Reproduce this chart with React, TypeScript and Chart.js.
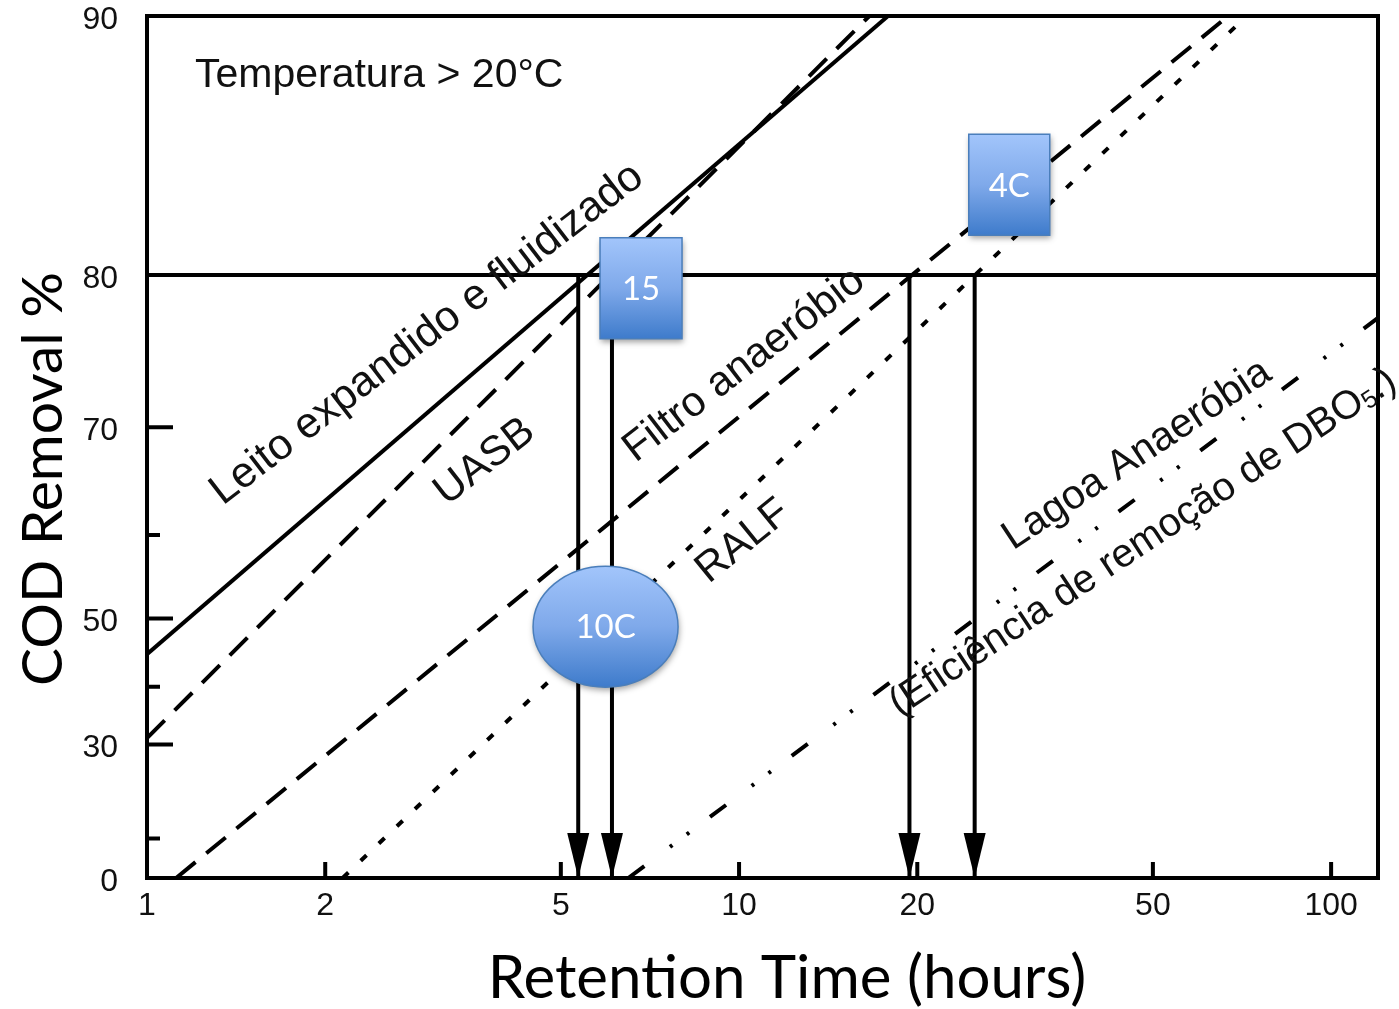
import { useEffect, useRef } from 'react';
import { Chart, registerables, LinearScale } from 'chart.js';

// ---------------- data ----------------
const X_TICKS = [1, 2, 5, 10, 20, 50, 100];
const X_MARKS = [2, 5, 10, 20, 50, 100];
const Y_TICKS = [0, 10, 30, 40, 50, 60, 70, 80, 90];
const Y_LABELED_TICKS = [0, 30, 50, 70, 80, 90];
const Y_MAJOR_MARKS = [30, 50, 70];
const Y_MINOR_MARKS = [10, 40, 60];

const LEITO_TIME = [1, 17.85];
const LEITO_REMOVAL = [45, 90];
const UASB_TIME = [1, 16.6];
const UASB_REMOVAL = [31.2, 90];
const FILTRO_TIME = [1.12, 67];
const FILTRO_REMOVAL = [0, 90];
const RALF_TIME = [2.14, 72];
const RALF_REMOVAL = [0, 90];
const LAGOA_TIME = [6.5, 120];
const LAGOA_REMOVAL = [0, 77.6];

const TARGET_REMOVAL = 80;
const ARROW_TIMES = [5.35, 6.1, 19.4, 25];

// ---------------- annotation placement (data coordinates) ----------------
const CURVE_LABELS = [
  { text: 'Leito expandido e fluidizado', t: 2.97, e: 76.6, angle: 37.5, size: 43 },
  { text: 'UASB', t: 3.72, e: 67.1, angle: 38, size: 42 },
  { text: 'Filtro anaeróbio', t: 10.2, e: 74.6, angle: 37.5, size: 42 },
  { text: 'RALF', t: 10.16, e: 59.3, angle: 39, size: 42 },
  { text: 'Lagoa Anaeróbia', t: 47.0, e: 67.7, angle: 33.5, size: 41 },
];
const EFFICIENCY_LABEL = { t: 48.1, e: 59.2, angle: 33.5 };
const TEMPERATURE_LABEL = { text: 'Temperatura > 20°C', t: 1.205, e: 87.9 };
const TEMP_BADGES = [
  { text: '15', t: 6.83, e: 79.3, w: 82, h: 101, shape: 'rect' },
  { text: '4C', t: 28.6, e: 84.3, w: 81, h: 101, shape: 'rect' },
  { text: '10C', t: 5.95, e: 48.9, w: 145, h: 121, shape: 'ellipse' },
];

const SANS = '"Liberation Sans", Arial, sans-serif';
const LABEL_FONT = `40px ${SANS}`;
const SUB_FONT = `25px ${SANS}`;
const X_TITLE_FONT = '60px Lato, "Open Sans", sans-serif';
const Y_TITLE_FONT = '57px Lato, "Open Sans", sans-serif';
const BADGE_FONT = '33px Lato, "Open Sans", sans-serif';
const INK = '#111';

// First-order removal axis: position proportional to -ln(1 - E)
const removalTransform = (v: number) => -Math.log(1 - v / 100);

class FirstOrderScale extends LinearScale {
  static id = 'firstOrder';
  buildTicks() {
    return Y_TICKS.map((value) => ({ value }));
  }
  configure() {
    super.configure();
    (this as any)._tStart = removalTransform((this as any).min);
    (this as any)._tRange = removalTransform((this as any).max) - (this as any)._tStart;
  }
  getPixelForValue(value: number) {
    const self = this as any;
    return self.getPixelForDecimal((removalTransform(value) - self._tStart) / self._tRange);
  }
  getValueForPixel(pixel: number) {
    const self = this as any;
    const d = self.getDecimalForPixel(pixel);
    return 100 * (1 - Math.exp(-(self._tStart + d * self._tRange)));
  }
}

Chart.register(...registerables, FirstOrderScale as any);

const toPoints = (times: number[], removals: number[]) =>
  times.map((t, i) => ({ x: t, y: removals[i] }));

function drawBadge(ctx: CanvasRenderingContext2D, cx: number, cy: number, b: any) {
  const x0 = cx - b.w / 2;
  const y0 = cy - b.h / 2;
  const grad = ctx.createLinearGradient(0, y0, 0, y0 + b.h);
  grad.addColorStop(0, '#A2C5FB');
  grad.addColorStop(0.5, '#7FA9EA');
  grad.addColorStop(1, '#3E7BCB');
  ctx.save();
  ctx.beginPath();
  if (b.shape === 'ellipse') {
    ctx.ellipse(cx, cy, b.w / 2, b.h / 2, 0, 0, Math.PI * 2);
  } else {
    ctx.rect(x0, y0, b.w, b.h);
  }
  ctx.shadowColor = 'rgba(0,0,0,0.38)';
  ctx.shadowBlur = 6;
  ctx.shadowOffsetX = 1;
  ctx.shadowOffsetY = 3;
  ctx.fillStyle = grad;
  ctx.fill();
  ctx.shadowColor = 'rgba(0,0,0,0)';
  ctx.lineWidth = 1.5;
  ctx.strokeStyle = '#4A7EBB';
  ctx.stroke();
  ctx.fillStyle = '#FFFFFF';
  ctx.font = BADGE_FONT;
  ctx.textAlign = 'center';
  ctx.textBaseline = 'middle';
  ctx.fillText(b.text, cx, cy + 1);
  ctx.restore();
}

const overlayPlugin = {
  id: 'codOverlay',
  afterDatasetsDraw(chart: any) {
    const { ctx, chartArea: a } = chart;
    const xs = chart.scales.x;
    const ys = chart.scales.y;
    ctx.save();

    // arrowheads
    ctx.fillStyle = '#000';
    const yBase = ys.getPixelForValue(0);
    ARROW_TIMES.forEach((t) => {
      const px = xs.getPixelForValue(t);
      ctx.beginPath();
      ctx.moveTo(px - 11, yBase - 45);
      ctx.lineTo(px + 11, yBase - 45);
      ctx.lineTo(px, yBase);
      ctx.closePath();
      ctx.fill();
    });

    // inward tick marks
    ctx.strokeStyle = '#000';
    ctx.lineWidth = 4;
    ctx.lineCap = 'butt';
    ctx.beginPath();
    X_MARKS.forEach((v) => {
      const px = xs.getPixelForValue(v);
      ctx.moveTo(px, a.bottom);
      ctx.lineTo(px, a.bottom - 16);
    });
    Y_MAJOR_MARKS.forEach((v) => {
      const py = ys.getPixelForValue(v);
      ctx.moveTo(a.left, py);
      ctx.lineTo(a.left + 26, py);
    });
    Y_MINOR_MARKS.forEach((v) => {
      const py = ys.getPixelForValue(v);
      ctx.moveTo(a.left, py);
      ctx.lineTo(a.left + 13, py);
    });
    ctx.stroke();

    // frame
    ctx.strokeRect(a.left, a.top, a.right - a.left, a.bottom - a.top);

    // text labels
    ctx.fillStyle = INK;
    ctx.font = `41px ${SANS}`;
    ctx.textAlign = 'left';
    ctx.textBaseline = 'alphabetic';
    ctx.fillText(
      TEMPERATURE_LABEL.text,
      xs.getPixelForValue(TEMPERATURE_LABEL.t),
      ys.getPixelForValue(TEMPERATURE_LABEL.e)
    );

    CURVE_LABELS.forEach((l) => {
      ctx.save();
      ctx.translate(xs.getPixelForValue(l.t), ys.getPixelForValue(l.e));
      ctx.rotate((-l.angle * Math.PI) / 180);
      ctx.font = `${l.size}px ${SANS}`;
      ctx.textAlign = 'center';
      ctx.textBaseline = 'middle';
      ctx.fillText(l.text, 0, 0);
      ctx.restore();
    });

    // efficiency label with subscript
    {
      const main = '(Eficiência de remoção de DBO';
      const sub = '5';
      const tail = '.)';
      ctx.save();
      ctx.translate(xs.getPixelForValue(EFFICIENCY_LABEL.t), ys.getPixelForValue(EFFICIENCY_LABEL.e));
      ctx.rotate((-EFFICIENCY_LABEL.angle * Math.PI) / 180);
      ctx.textAlign = 'left';
      ctx.textBaseline = 'middle';
      ctx.font = LABEL_FONT;
      const w1 = ctx.measureText(main).width;
      const w3 = ctx.measureText(tail).width;
      ctx.font = SUB_FONT;
      const w2 = ctx.measureText(sub).width;
      let cx = -(w1 + w2 + w3) / 2;
      ctx.font = LABEL_FONT;
      ctx.fillText(main, cx, 0);
      cx += w1;
      ctx.font = SUB_FONT;
      ctx.fillText(sub, cx, 7);
      cx += w2;
      ctx.font = LABEL_FONT;
      ctx.fillText(tail, cx, 0);
      ctx.restore();
    }

    // temperature badges
    TEMP_BADGES.forEach((b) => {
      drawBadge(ctx, xs.getPixelForValue(b.t), ys.getPixelForValue(b.e), b);
    });

    ctx.restore();
  },
  afterDraw(chart: any) {
    const { ctx, chartArea: a } = chart;
    ctx.save();
    ctx.fillStyle = '#000';
    ctx.textAlign = 'center';
    ctx.textBaseline = 'alphabetic';
    ctx.font = X_TITLE_FONT;
    ctx.fillText('Retention Time (hours)', a.left + 640, 998);
    ctx.font = Y_TITLE_FONT;
    ctx.translate(62, 479);
    ctx.rotate(-Math.PI / 2);
    ctx.fillText('COD Removal %', 0, 0);
    ctx.restore();
  },
};

export default function App() {
  const canvasRef = useRef<HTMLCanvasElement | null>(null);

  useEffect(() => {
    const canvas = canvasRef.current;
    if (!canvas) return;

    const lineSet = (data: any[], dash: number[]) => ({
      data,
      showLine: true,
      borderColor: '#000',
      borderWidth: 4,
      borderDash: dash,
      borderCapStyle: 'butt',
      pointRadius: 0,
      fill: false,
    });

    const datasets: any[] = [
      lineSet(toPoints(LEITO_TIME, LEITO_REMOVAL), []),
      lineSet(toPoints(UASB_TIME, UASB_REMOVAL), [25, 14]),
      lineSet(toPoints(FILTRO_TIME, FILTRO_REMOVAL), [25, 14]),
      lineSet(toPoints(RALF_TIME, RALF_REMOVAL), [8, 17]),
      lineSet(toPoints(LAGOA_TIME, LAGOA_REMOVAL), [20, 32, 3, 18, 3, 26]),
      ...ARROW_TIMES.map((t) =>
        lineSet([{ x: t, y: TARGET_REMOVAL }, { x: t, y: 0 }], [])
      ),
    ];

    const chart = new Chart(canvas, {
      type: 'scatter',
      data: { datasets },
      options: {
        animation: false,
        responsive: false,
        events: [],
        layout: { padding: { top: 16, right: 21, left: 0, bottom: 0 } },
        plugins: {
          legend: { display: false },
          tooltip: { enabled: false },
        },
        scales: {
          x: {
            type: 'logarithmic',
            min: 1,
            max: 120,
            afterBuildTicks: (s: any) => {
              s.ticks = X_TICKS.map((value) => ({ value }));
            },
            afterFit: (s: any) => {
              s.height = 131;
              s.paddingLeft = 0;
              s.paddingRight = 0;
            },
            grid: { display: false, drawTicks: false },
            border: { display: false },
            ticks: {
              autoSkip: false,
              maxRotation: 0,
              padding: 9,
              color: INK,
              font: { family: SANS, size: 32 },
              callback: (v: any) => String(v),
            },
          },
          y: {
            type: 'firstOrder' as any,
            min: 0,
            max: 90,
            afterFit: (s: any) => {
              s.width = 147;
              s.paddingTop = 0;
              s.paddingBottom = 0;
            },
            grid: {
              drawTicks: false,
              lineWidth: 4,
              color: (c: any) =>
                c.tick && c.tick.value === TARGET_REMOVAL ? '#000' : 'rgba(0,0,0,0)',
            },
            border: { display: false },
            ticks: {
              autoSkip: false,
              padding: 29,
              labelOffset: 4,
              color: INK,
              font: { family: SANS, size: 32 },
              callback: (v: any) => (Y_LABELED_TICKS.includes(v) ? String(v) : ''),
            },
          },
        },
      } as any,
      plugins: [overlayPlugin],
    });

    return () => chart.destroy();
  }, []);

  return (
    <div
      style={{
        position: 'fixed',
        left: 0,
        top: 0,
        width: 1399,
        height: 1009,
        background: '#fff',
      }}
    >
      <canvas ref={canvasRef} width={1399} height={1009} />
    </div>
  );
}
